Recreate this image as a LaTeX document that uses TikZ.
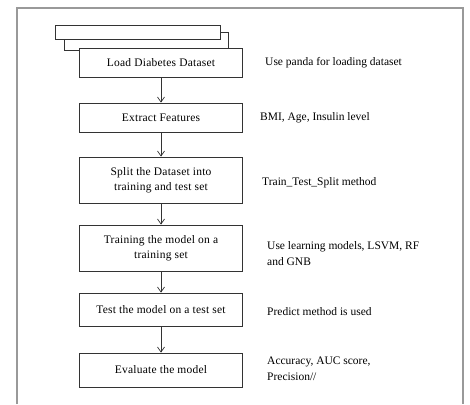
\documentclass[tikz,border=0pt]{standalone}
\usepackage{fontspec}
\setmainfont{Liberation Serif}
\usetikzlibrary{arrows.meta}
\begin{document}
\begin{tikzpicture}[x=1pt,y=-1pt,
  stepbox/.style={draw=black!80,line width=0.8pt,fill=white,minimum width=163pt,align=center,font=\fontsize{11.5}{15.5}\selectfont\addfontfeature{LetterSpace=2},inner sep=0pt},
  note/.style={anchor=west,align=left,font=\fontsize{11.5}{16}\selectfont,inner sep=0pt},
  flow/.style={draw=black!80,line width=0.7pt,-{Straight Barb[length=5pt,width=7pt]}}]
\useasboundingbox (0,0) rectangle (470,404);
\fill[white] (0,0) rectangle (470,404);
\draw[black!40,line width=1.6pt] (17,404) -- (17,8) -- (463,8) -- (463,404);
% stacked document shape
\draw[black!80,line width=0.8pt] (64,39) -- (64,50) -- (79,50);
\draw[black!80,line width=0.8pt] (220,32) -- (228,32) -- (228,48);
\node[draw=black!80,line width=0.8pt,fill=white,minimum width=165pt,minimum height=14pt,inner sep=0pt] (top) at (137.5,32) {};
\node[stepbox,minimum height=29pt] (s1) at (161,62.5) {Load Diabetes Dataset};
\node[stepbox,minimum height=29pt] (s2) at (161,117.5) {Extract Features};
\node[stepbox,minimum height=46pt] (s3) at (161,180) {Split the Dataset into\\training and test set};
\node[stepbox,minimum height=46pt] (s4) at (161,248) {Training the model on a\\training set};
\node[stepbox,minimum height=33pt] (s5) at (161,309.5) {Test the model on a test set};
\node[stepbox,minimum height=34pt] (s6) at (161,370) {Evaluate the model};
\draw[flow] (s1) -- (s2);
\draw[flow] (s2) -- (s3);
\draw[flow] (s3) -- (s4);
\draw[flow] (s4) -- (s5);
\draw[flow] (s5) -- (s6);
\node[note] (n1) at (265,63) {Use panda for loading dataset};
\node[note] (n2) at (260,118) {BMI, Age, Insulin level};
\node[note] (n3) at (262,183) {Train\_Test\_Split method};
\node[note] (n4) at (267,254) {Use learning models, LSVM, RF\\and GNB};
\node[note] (n5) at (267,312) {Predict method is used};
\node[note] (n6) at (267,368.5) {Accuracy, AUC score,\\Precision//};
\end{tikzpicture}
\end{document}
